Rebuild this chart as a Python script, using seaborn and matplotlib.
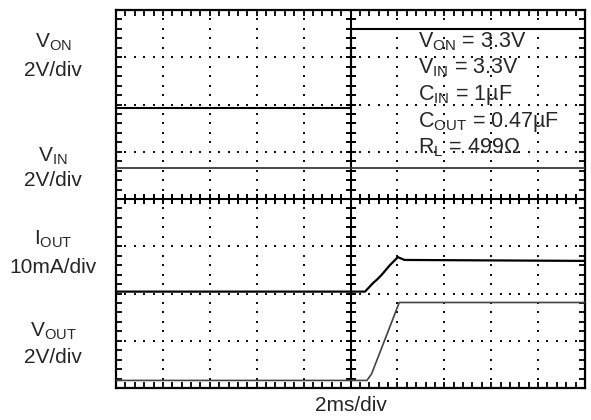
import numpy as np
import matplotlib
matplotlib.use("Agg")
import matplotlib.pyplot as plt
import seaborn as sns

# ── Trace data (scope divisions: x 0..10, y 0..8 from bottom) ────────────────
von_x = [0.0, 5.02, 5.02, 10.0]
von_y = [5.93, 5.93, 7.59, 7.59]

vin_x = [0.0, 10.0]
vin_y = [4.65, 4.65]

iout_x = [0.0, 5.31, 5.48, 5.56, 5.66, 5.84, 6.01, 6.15, 10.0]
iout_y = [2.04, 2.04, 2.22, 2.29, 2.39, 2.60, 2.77, 2.71, 2.69]

vout_x = [0.0, 5.35, 5.45, 6.04, 10.0]
vout_y = [0.16, 0.16, 0.30, 1.81, 1.81]

trace_labels = [r"V$_{ON}$", r"V$_{IN}$", r"I$_{OUT}$", r"V$_{OUT}$"]
trace_scales = ["2V/div", "2V/div", "10mA/div", "2V/div"]

notes = [r"V$_{ON}$ = 3.3V", r"V$_{IN}$ = 3.3V", r"C$_{IN}$ = 1µF",
         r"C$_{OUT}$ = 0.47µF", r"R$_{L}$ = 499Ω"]

sns.set_style("white")
plt.rcParams["font.family"] = ["Liberation Sans", "DejaVu Sans"]
plt.rcParams["mathtext.fontset"] = "custom"
plt.rcParams["mathtext.rm"] = "Liberation Sans"
plt.rcParams["mathtext.it"] = "Liberation Sans"
plt.rcParams["mathtext.default"] = "regular"

W, H = 591, 420
fig = plt.figure(figsize=(W / 100, H / 100), dpi=100)
ax = fig.add_axes([116 / W, 1 - 388 / H, 469 / W, 378 / H])
ax.set_xlim(0, 10)
ax.set_ylim(0, 8)

# ── graticule ────────────────────────────────────────────────────────────────
fine_x = np.arange(0, 10.01, 0.2)
fine_y = np.arange(0, 8.01, 0.2)
for gx in range(1, 10):
    if gx != 5:
        ax.scatter(np.full(len(fine_y), gx), fine_y, s=3.2, marker="s",
                   color="#111", linewidths=0, zorder=1)
for gy in range(1, 8):
    if gy != 4:
        ax.scatter(fine_x, np.full(len(fine_x), gy), s=3.2, marker="s",
                   color="#111", linewidths=0, zorder=1)

ax.axvline(5, color="black", lw=1.5, zorder=2)
ax.axhline(4, color="black", lw=1.5, zorder=2)
ax.plot(np.full(len(fine_y), 5), fine_y, ls="none", marker="_", ms=6.5,
        mew=1.4, color="black", zorder=2)
ax.plot(fine_x, np.full(len(fine_x), 4), ls="none", marker="|", ms=6.5,
        mew=1.4, color="black", zorder=2)

ax.set_xticks(range(0, 11))
ax.set_yticks(range(0, 9))
ax.set_xticks(fine_x, minor=True)
ax.set_yticks(fine_y, minor=True)
ax.tick_params(which="both", direction="in", length=4.5, width=1.3,
               top=True, right=True, bottom=True, left=True,
               labelbottom=False, labelleft=False, color="black")
for sp in ax.spines.values():
    sp.set_color("black")
    sp.set_linewidth(1.6)

# ── traces ───────────────────────────────────────────────────────────────────
sns.lineplot(x=von_x, y=von_y, ax=ax, estimator=None, sort=False,
             color="black", lw=1.5, zorder=3)
sns.lineplot(x=vin_x, y=vin_y, ax=ax, estimator=None, sort=False,
             color="#3a3a3a", lw=1.3, zorder=3)
sns.lineplot(x=iout_x, y=iout_y, ax=ax, estimator=None, sort=False,
             color="black", lw=1.6, zorder=3)
sns.lineplot(x=vout_x, y=vout_y, ax=ax, estimator=None, sort=False,
             color="#444444", lw=1.2, zorder=3)

# ── labels ───────────────────────────────────────────────────────────────────
name_base = [48, 162, 245, 337]
scale_base = [76, 186, 273, 363]
for lab, sc, nb, sb in zip(trace_labels, trace_scales, name_base, scale_base):
    fig.text(53 / W, 1 - nb / H, lab, ha="center", va="baseline", fontsize=15)
    fig.text(53 / W, 1 - sb / H, sc, ha="center", va="baseline", fontsize=15)

note_base = [7.20, 6.65, 6.10, 5.52, 4.97]
for txt, yb in zip(notes, note_base):
    ax.text(6.44, yb, txt, ha="left", va="baseline", fontsize=15.5, zorder=4)

fig.text(351 / W, 1 - 411 / H, "2ms/div", ha="center", va="baseline",
         fontsize=15)

fig.savefig("out.png", dpi=100)
